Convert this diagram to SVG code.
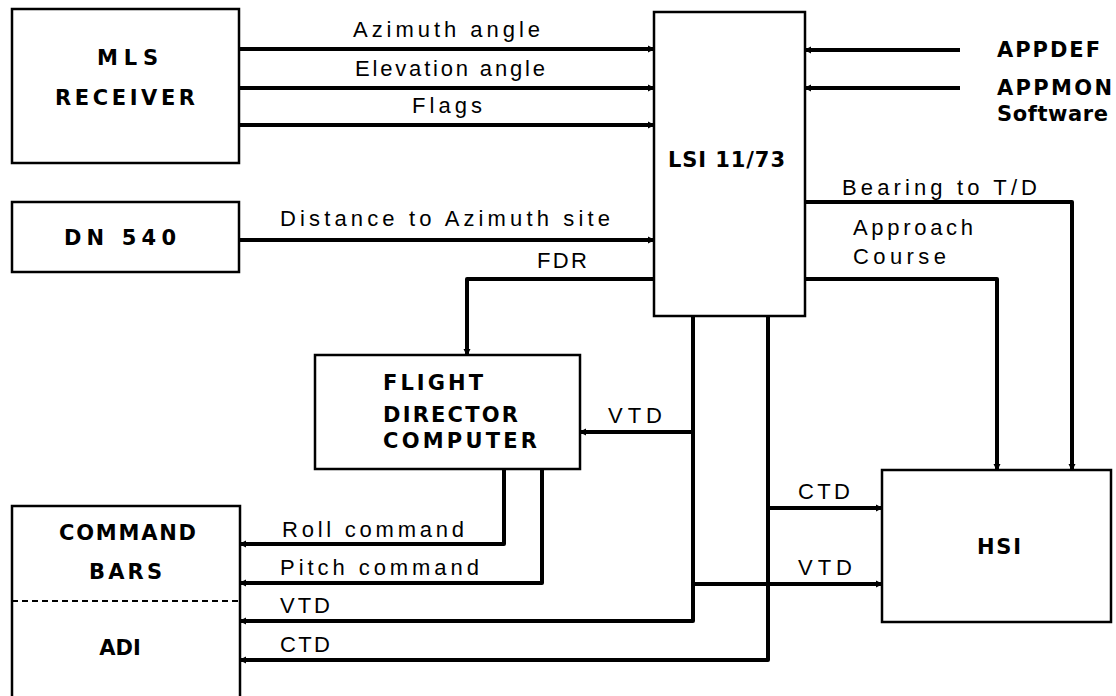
<svg xmlns="http://www.w3.org/2000/svg" width="1116" height="696" viewBox="0 0 1116 696">
<style>
.box{fill:none;stroke:#000;stroke-width:2.5}
.ln{fill:none;stroke:#000;stroke-width:4;stroke-linejoin:round}
.arr{marker-end:url(#dot)}
.t{font-family:"Liberation Sans",Arial,sans-serif;font-size:22px;fill:#000}
.b{font-family:"DejaVu Sans","Liberation Sans",sans-serif;font-size:21px;font-weight:bold;fill:#000}
</style>
<defs>
<marker id="dot" markerUnits="userSpaceOnUse" markerWidth="10" markerHeight="10" refX="7" refY="5" orient="auto">
<path d="M1,1.5 L8,5 L1,8.5 Z" fill="#000"/>
</marker>
</defs>
<rect width="1116" height="696" fill="#fff"/>

<g id="mls">
<rect class="box" x="12" y="9" width="227" height="154"/>
<text class="b" x="97" y="65" textLength="61" lengthAdjust="spacing">MLS</text>
<text class="b" x="55" y="105" textLength="140" lengthAdjust="spacing">RECEIVER</text>
</g>
<g id="dn540">
<rect class="box" x="12" y="202" width="227" height="70"/>
<text class="b" x="64" y="245" textLength="112" lengthAdjust="spacing">DN 540</text>
</g>
<g id="lsi">
<rect class="box" x="654" y="12" width="151" height="304"/>
<text class="b" x="668" y="167" textLength="117" lengthAdjust="spacing">LSI 11/73</text>
</g>
<g id="software">
<text class="b" x="997" y="57" textLength="103" lengthAdjust="spacing">APPDEF</text>
<text class="b" x="997" y="95" textLength="115" lengthAdjust="spacing">APPMON</text>
<text class="b" x="997" y="121" textLength="111" lengthAdjust="spacing">Software</text>
</g>
<g id="fdc">
<rect class="box" x="315" y="355" width="265" height="114"/>
<text class="b" x="383" y="390" textLength="100" lengthAdjust="spacing">FLIGHT</text>
<text class="b" x="383" y="422" textLength="135" lengthAdjust="spacing">DIRECTOR</text>
<text class="b" x="383" y="448" textLength="154" lengthAdjust="spacing">COMPUTER</text>
</g>
<g id="hsi">
<rect class="box" x="882" y="470" width="229" height="152"/>
<text class="b" x="977" y="554" textLength="44" lengthAdjust="spacing">HSI</text>
</g>
<g id="adi">
<rect class="box" x="12" y="506" width="228" height="210"/>
<line x1="12" y1="601" x2="240" y2="601" stroke="#000" stroke-width="2" stroke-dasharray="6,4"/>
<text class="b" x="59" y="540" textLength="137" lengthAdjust="spacing">COMMAND</text>
<text class="b" x="89" y="579" textLength="73" lengthAdjust="spacing">BARS</text>
<text class="b" x="120" y="655" text-anchor="middle">ADI</text>
</g>

<g id="connectors">
<path class="ln arr" d="M239,49 H654"/>
<path class="ln arr" d="M239,88 H654"/>
<path class="ln arr" d="M239,125 H654"/>
<path class="ln arr" d="M239,240 H654"/>
<path class="ln arr" d="M960,50 H805"/>
<path class="ln arr" d="M960,88 H805"/>
<path class="ln arr" d="M805,202 H1072 V470"/>
<path class="ln arr" d="M805,279 H997 V470"/>
<path class="ln arr" d="M654,279 H467 V355"/>
<path class="ln arr" d="M693,316 V621 H240"/>
<path class="ln arr" d="M693,432 H580"/>
<path class="ln arr" d="M693,584 H882"/>
<path class="ln arr" d="M768,316 V660 H240"/>
<path class="ln arr" d="M768,508 H882"/>
<path class="ln arr" d="M504,469 V544 H240"/>
<path class="ln arr" d="M542,469 V583 H240"/>
</g>

<g id="labels">
<text class="t" x="353" y="37" textLength="187" lengthAdjust="spacing">Azimuth angle</text>
<text class="t" x="355" y="76" textLength="190" lengthAdjust="spacing">Elevation angle</text>
<text class="t" x="412" y="113" textLength="70" lengthAdjust="spacing">Flags</text>
<text class="t" x="280" y="226" textLength="330" lengthAdjust="spacing">Distance to Azimuth site</text>
<text class="t" x="537" y="268" textLength="50" lengthAdjust="spacing">FDR</text>
<text class="t" x="842" y="195" textLength="195" lengthAdjust="spacing">Bearing to T/D</text>
<text class="t" x="853" y="235" textLength="120" lengthAdjust="spacing">Approach</text>
<text class="t" x="853" y="264" textLength="93" lengthAdjust="spacing">Course</text>
<text class="t" x="608" y="423" textLength="54" lengthAdjust="spacing">VTD</text>
<text class="t" x="798" y="499" textLength="52" lengthAdjust="spacing">CTD</text>
<text class="t" x="798" y="575" textLength="54" lengthAdjust="spacing">VTD</text>
<text class="t" x="282" y="537" textLength="182" lengthAdjust="spacing">Roll command</text>
<text class="t" x="280" y="575" textLength="199" lengthAdjust="spacing">Pitch command</text>
<text class="t" x="280" y="613" textLength="50" lengthAdjust="spacing">VTD</text>
<text class="t" x="280" y="652" textLength="50" lengthAdjust="spacing">CTD</text>
</g>
</svg>
